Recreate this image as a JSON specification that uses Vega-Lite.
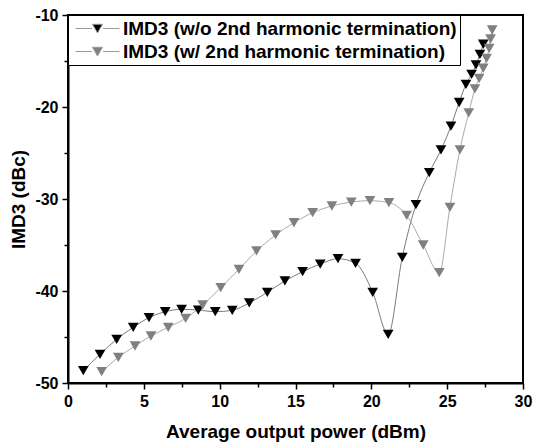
{
  "$schema": "https://vega.github.io/schema/vega-lite/v6.json",
  "autosize": "none",
  "padding": {"left": 68, "top": 15, "right": 10, "bottom": 62},
  "width": 455,
  "height": 368,
  "background": "white",
  "config": {
    "font": "Liberation Sans",
    "view": {"stroke": "black", "strokeWidth": 2}
  },
  "datasets": {
    "imd": [
      {"series": "IMD3 (w/o 2nd harmonic termination)", "power": 1.01, "imd3": -48.66},
      {"series": "IMD3 (w/o 2nd harmonic termination)", "power": 2.11, "imd3": -46.88},
      {"series": "IMD3 (w/o 2nd harmonic termination)", "power": 3.21, "imd3": -45.25},
      {"series": "IMD3 (w/o 2nd harmonic termination)", "power": 4.30, "imd3": -43.95},
      {"series": "IMD3 (w/o 2nd harmonic termination)", "power": 5.34, "imd3": -42.90},
      {"series": "IMD3 (w/o 2nd harmonic termination)", "power": 6.41, "imd3": -42.25},
      {"series": "IMD3 (w/o 2nd harmonic termination)", "power": 7.49, "imd3": -41.99},
      {"series": "IMD3 (w/o 2nd harmonic termination)", "power": 8.59, "imd3": -42.07},
      {"series": "IMD3 (w/o 2nd harmonic termination)", "power": 9.71, "imd3": -42.25},
      {"series": "IMD3 (w/o 2nd harmonic termination)", "power": 10.83, "imd3": -42.10},
      {"series": "IMD3 (w/o 2nd harmonic termination)", "power": 11.95, "imd3": -41.30},
      {"series": "IMD3 (w/o 2nd harmonic termination)", "power": 13.14, "imd3": -40.14},
      {"series": "IMD3 (w/o 2nd harmonic termination)", "power": 14.30, "imd3": -38.91},
      {"series": "IMD3 (w/o 2nd harmonic termination)", "power": 15.47, "imd3": -37.90},
      {"series": "IMD3 (w/o 2nd harmonic termination)", "power": 16.63, "imd3": -37.07},
      {"series": "IMD3 (w/o 2nd harmonic termination)", "power": 17.80, "imd3": -36.49},
      {"series": "IMD3 (w/o 2nd harmonic termination)", "power": 18.96, "imd3": -36.99},
      {"series": "IMD3 (w/o 2nd harmonic termination)", "power": 20.09, "imd3": -40.14},
      {"series": "IMD3 (w/o 2nd harmonic termination)", "power": 21.11, "imd3": -44.71},
      {"series": "IMD3 (w/o 2nd harmonic termination)", "power": 22.04, "imd3": -36.34},
      {"series": "IMD3 (w/o 2nd harmonic termination)", "power": 22.94, "imd3": -30.62},
      {"series": "IMD3 (w/o 2nd harmonic termination)", "power": 23.82, "imd3": -27.14},
      {"series": "IMD3 (w/o 2nd harmonic termination)", "power": 24.59, "imd3": -24.67},
      {"series": "IMD3 (w/o 2nd harmonic termination)", "power": 25.25, "imd3": -22.07},
      {"series": "IMD3 (w/o 2nd harmonic termination)", "power": 25.79, "imd3": -19.51},
      {"series": "IMD3 (w/o 2nd harmonic termination)", "power": 26.24, "imd3": -17.53},
      {"series": "IMD3 (w/o 2nd harmonic termination)", "power": 26.61, "imd3": -16.45},
      {"series": "IMD3 (w/o 2nd harmonic termination)", "power": 26.90, "imd3": -15.43},
      {"series": "IMD3 (w/o 2nd harmonic termination)", "power": 27.16, "imd3": -14.27},
      {"series": "IMD3 (w/o 2nd harmonic termination)", "power": 27.38, "imd3": -13.18},
      {"series": "IMD3 (w/ 2nd harmonic termination)", "power": 2.22, "imd3": -48.77},
      {"series": "IMD3 (w/ 2nd harmonic termination)", "power": 3.32, "imd3": -47.21},
      {"series": "IMD3 (w/ 2nd harmonic termination)", "power": 4.42, "imd3": -45.98},
      {"series": "IMD3 (w/ 2nd harmonic termination)", "power": 5.47, "imd3": -44.89},
      {"series": "IMD3 (w/ 2nd harmonic termination)", "power": 6.61, "imd3": -43.95},
      {"series": "IMD3 (w/ 2nd harmonic termination)", "power": 7.76, "imd3": -42.97},
      {"series": "IMD3 (w/ 2nd harmonic termination)", "power": 8.88, "imd3": -41.52},
      {"series": "IMD3 (w/ 2nd harmonic termination)", "power": 10.07, "imd3": -39.64},
      {"series": "IMD3 (w/ 2nd harmonic termination)", "power": 11.27, "imd3": -37.64},
      {"series": "IMD3 (w/ 2nd harmonic termination)", "power": 12.43, "imd3": -35.65},
      {"series": "IMD3 (w/ 2nd harmonic termination)", "power": 13.69, "imd3": -33.91},
      {"series": "IMD3 (w/ 2nd harmonic termination)", "power": 14.90, "imd3": -32.58},
      {"series": "IMD3 (w/ 2nd harmonic termination)", "power": 16.13, "imd3": -31.49},
      {"series": "IMD3 (w/ 2nd harmonic termination)", "power": 17.40, "imd3": -30.76},
      {"series": "IMD3 (w/ 2nd harmonic termination)", "power": 18.68, "imd3": -30.33},
      {"series": "IMD3 (w/ 2nd harmonic termination)", "power": 19.91, "imd3": -30.18},
      {"series": "IMD3 (w/ 2nd harmonic termination)", "power": 21.16, "imd3": -30.40},
      {"series": "IMD3 (w/ 2nd harmonic termination)", "power": 22.33, "imd3": -31.79},
      {"series": "IMD3 (w/ 2nd harmonic termination)", "power": 23.42, "imd3": -35.00},
      {"series": "IMD3 (w/ 2nd harmonic termination)", "power": 24.48, "imd3": -38.01},
      {"series": "IMD3 (w/ 2nd harmonic termination)", "power": 25.18, "imd3": -30.90},
      {"series": "IMD3 (w/ 2nd harmonic termination)", "power": 25.84, "imd3": -24.67},
      {"series": "IMD3 (w/ 2nd harmonic termination)", "power": 26.42, "imd3": -20.65},
      {"series": "IMD3 (w/ 2nd harmonic termination)", "power": 26.83, "imd3": -18.04},
      {"series": "IMD3 (w/ 2nd harmonic termination)", "power": 27.11, "imd3": -16.88},
      {"series": "IMD3 (w/ 2nd harmonic termination)", "power": 27.38, "imd3": -15.79},
      {"series": "IMD3 (w/ 2nd harmonic termination)", "power": 27.60, "imd3": -14.71},
      {"series": "IMD3 (w/ 2nd harmonic termination)", "power": 27.77, "imd3": -13.62},
      {"series": "IMD3 (w/ 2nd harmonic termination)", "power": 27.86, "imd3": -12.61},
      {"series": "IMD3 (w/ 2nd harmonic termination)", "power": 27.97, "imd3": -11.63}
    ]
  },
  "data": {"name": "imd"},
  "encoding": {
    "x": {
      "field": "power", "type": "quantitative",
      "scale": {"domain": [0, 30], "nice": false, "zero": false},
      "axis": {
        "title": "Average output power (dBm)",
        "values": [0, 2.5, 5, 7.5, 10, 12.5, 15, 17.5, 20, 22.5, 25, 27.5, 30],
        "labelExpr": "datum.value % 5 == 0 ? toString(datum.value) : ''",
        "tickSize": {"expr": "datum.value % 5 == 0 ? 6 : 4"},
        "tickColor": "black", "tickWidth": 1.5,
        "domainColor": "black", "domainWidth": 2,
        "grid": false,
        "labelFont": "Liberation Sans", "labelFontWeight": "bold", "labelFontSize": 16, "labelColor": "black",
        "labelPadding": 4, "labelFlush": false, "labelOverlap": false,
        "titleFont": "Liberation Sans", "titleFontWeight": "bold", "titleFontSize": 19, "titleColor": "black",
        "titleY": 39
      }
    },
    "y": {
      "field": "imd3", "type": "quantitative",
      "scale": {"domain": [-50, -10], "nice": false, "zero": false},
      "axis": {
        "title": "IMD3 (dBc)",
        "values": [-50, -45, -40, -35, -30, -25, -20, -15, -10],
        "labelExpr": "datum.value % 10 == 0 ? toString(datum.value) : ''",
        "tickSize": {"expr": "datum.value % 10 == 0 ? 6 : 4"},
        "tickColor": "black", "tickWidth": 1.5,
        "domainColor": "black", "domainWidth": 2,
        "grid": false,
        "labelFont": "Liberation Sans", "labelFontWeight": "bold", "labelFontSize": 16, "labelColor": "black",
        "labelPadding": 4, "labelFlush": false, "labelOverlap": false,
        "titleFont": "Liberation Sans", "titleFontWeight": "bold", "titleFontSize": 19, "titleColor": "black",
        "titleX": -40
      }
    }
  },
  "layer": [
    {
      "transform": [{"filter": "datum.series == 'IMD3 (w/o 2nd harmonic termination)'"}],
      "mark": {"type": "line", "interpolate": "monotone", "strokeWidth": 1, "color": "#7a7a7a"},
      "encoding": {}
    },
    {
      "transform": [{"filter": "datum.series == 'IMD3 (w/ 2nd harmonic termination)'"}],
      "mark": {"type": "line", "interpolate": "monotone", "strokeWidth": 1, "color": "#aaaaaa"},
      "encoding": {}
    },
    {
      "mark": {"type": "point", "shape": "triangle-down", "filled": true, "size": 115, "opacity": 1},
      "encoding": {
        "color": {
          "field": "series", "type": "nominal",
          "scale": {"domain": ["IMD3 (w/o 2nd harmonic termination)", "IMD3 (w/ 2nd harmonic termination)"], "range": ["#000000", "#808080"]},
          "legend": {
            "title": null,
            "orient": "none",
            "legendX": 0,
            "legendY": 0,
            "padding": 3,
            "strokeColor": "black",
            "fillColor": "white",
            "symbolType": "M-0.6,0L1.05,0M2.15,0L3.8,0M1.1,-0.42L2.1,-0.42L1.6,0.45Z",
            "symbolSize": 400,
            "symbolStrokeColor": "#999999",
            "symbolStrokeWidth": 1,
            "labelFont": "Liberation Sans",
            "labelFontWeight": "bold",
            "labelFontSize": 19,
            "labelColor": "black",
            "labelLimit": 1000,
            "labelOffset": 31,
            "rowPadding": 2
          }
        }
      }
    }
  ]
}
